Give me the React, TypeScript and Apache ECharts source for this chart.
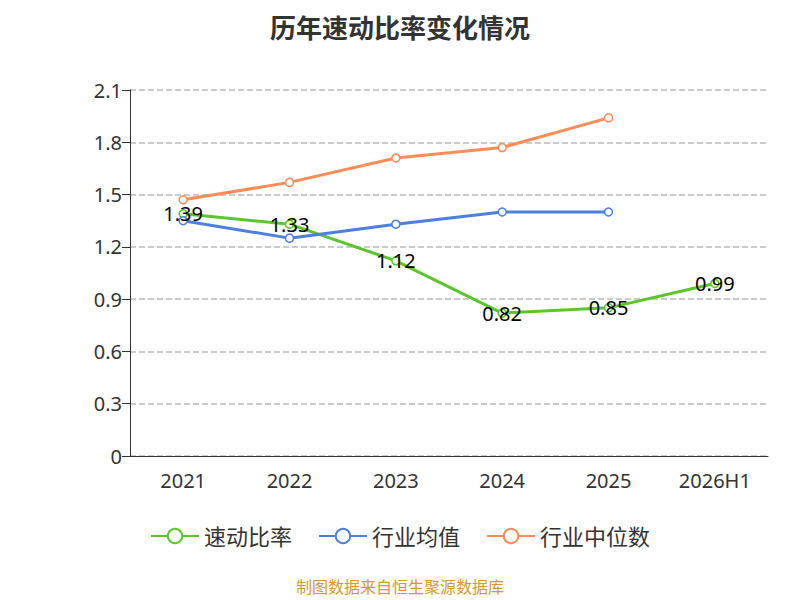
import React, { useEffect, useRef } from "react";
import * as echarts from "echarts";

const categories = ["2021", "2022", "2023", "2024", "2025", "2026H1"];
const quickRatio = [1.39, 1.33, 1.12, 0.82, 0.85, 0.99];
const industryAvg = [1.35, 1.25, 1.33, 1.4, 1.4, null];
const industryMedian = [1.47, 1.57, 1.71, 1.77, 1.94, null];

const FONT = "Noto Sans, Noto Sans CJK SC, sans-serif";

export default function App() {
  const ref = useRef<HTMLDivElement>(null);
  useEffect(() => {
    const chart = echarts.init(ref.current!, null, { renderer: "svg" });
    const mk = (name: string, data: any[], color: string, label: boolean) => ({
      name, type: "line", data, symbol: "circle", symbolSize: 8,
      itemStyle: { color: "#fff", borderColor: color, borderWidth: 1.5 },
      lineStyle: { color, width: 3 },
      color,
      emphasis: { disabled: true },
      label: label ? { show: true, position: "inside", color: "#000", fontSize: 20, fontFamily: FONT, formatter: (p: any) => p.value.toFixed(2) } : { show: false },
    });
    chart.setOption({
      animation: false,
      textStyle: { fontFamily: FONT },
      title: { text: "历年速动比率变化情况", left: "center", top: 2, textStyle: { fontSize: 26, fontWeight: "bold", color: "#333", fontFamily: FONT } },
      grid: { left: 122, right: 24, top: 82, bottom: 152 },
      legend: {
        top: 512, itemWidth: 48, itemHeight: 18, itemGap: 26,
        textStyle: { fontSize: 22, color: "#333", fontFamily: FONT },
        data: ["速动比率", "行业均值", "行业中位数"],
      },
      xAxis: {
        type: "category", data: categories, boundaryGap: true,
        axisLine: { lineStyle: { color: "#333" } },
        axisTick: { length: 8, lineStyle: { color: "#333" } },
        axisLabel: { fontSize: 20, color: "#333", margin: 14, fontFamily: FONT },
      },
      yAxis: {
        type: "value", min: 0, max: 2.1, interval: 0.3,
        axisLine: { show: true, lineStyle: { color: "#333" } },
        axisTick: { show: true, length: 8, lineStyle: { color: "#333" } },
        axisLabel: { fontSize: 20, color: "#333", fontFamily: FONT, formatter: (v: number) => (v === 0 ? "0" : v.toFixed(1)) },
        splitLine: { lineStyle: { type: "dashed", color: "#bbb", width: 1.5 } },
      },
      series: [
        mk("速动比率", quickRatio, "#5ac62a", true),
        mk("行业均值", industryAvg, "#4b80e0", false),
        mk("行业中位数", industryMedian, "#ff8c56", false),
      ],
      graphic: [{ type: "text", left: "center", top: 571, style: { text: "制图数据来自恒生聚源数据库", fontSize: 16, fill: "#d09a30", fontFamily: FONT } }],
    });
    return () => chart.dispose();
  }, []);
  return <div ref={ref} style={{ width: 784, height: 600 }} />;
}
